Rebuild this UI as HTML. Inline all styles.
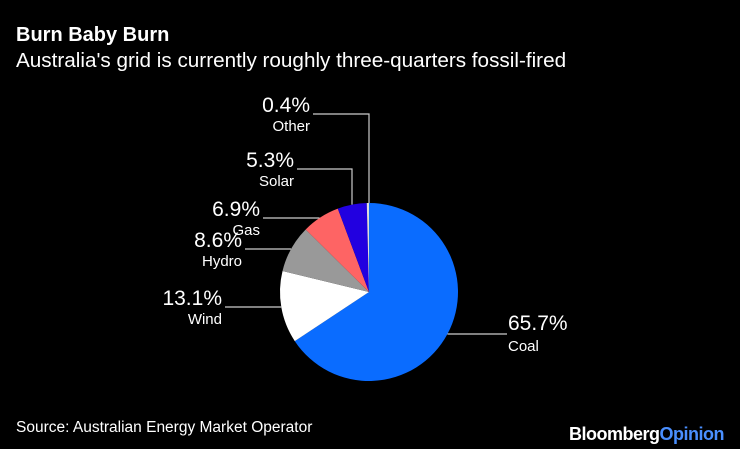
<!DOCTYPE html>
<html><head><meta charset="utf-8"><style>
body{margin:0;background:#000;width:740px;height:449px;overflow:hidden;font-family:"Liberation Sans",Arial,sans-serif;color:#fff}
</style></head><body>
<svg width="740" height="449" id="svg" style="position:absolute;left:0;top:0">
<text x="16" y="41" font-size="20" font-weight="bold" fill="#fff">Burn Baby Burn</text>
<text x="16" y="67" font-size="20.7" fill="#fff">Australia's grid is currently roughly three-quarters fossil-fired</text>
<text x="16" y="432" font-size="15.5" fill="#fff">Source: Australian Energy Market Operator</text>
<text x="724" y="440" font-size="18" font-weight="bold" fill="#fff" text-anchor="end" letter-spacing="-0.5">Bloomberg<tspan fill="#4a8fff">Opinion</tspan></text>
<g id="pie"></g>
</svg>
<script>
const categories=["Coal","Wind","Hydro","Gas","Solar","Other"];
const values=[65.7,13.1,8.6,6.9,5.3,0.4];
const labels=["65.7%","13.1%","8.6%","6.9%","5.3%","0.4%"];
const colors=["#0a6cff","#ffffff","#999999","#fe6464","#2200e0","#dddddd"];
const cx=369,cy=292,r=89;
const ns="http://www.w3.org/2000/svg";
const g=document.getElementById('pie');
const total=values.reduce((a,b)=>a+b,0);
function pt(a,rr){return [cx+rr*Math.sin(a),cy-rr*Math.cos(a)];}
let a0=0;
const mids=[];
values.forEach((v,i)=>{
  const a1=a0+v/total*2*Math.PI;
  const [x0,y0]=pt(a0,r),[x1,y1]=pt(a1,r);
  const p=document.createElementNS(ns,'path');
  p.setAttribute('d',`M${cx},${cy}L${x0},${y0}A${r},${r} 0 ${a1-a0>Math.PI?1:0} 1 ${x1},${y1}Z`);
  p.setAttribute('fill',colors[i]);
  
  
  g.appendChild(p);
  mids.push([a0,a1]);a0=a1;
});
const layout=[[334,'r',508],[307,'l',222],[249,'l',242],[218,'l',260],[169,'l',294],[114,'l',310]];
layout.forEach((L,i)=>{
  const [ly,side,tx]=L;
  let d;
  const m=(mids[i][0]+mids[i][1])/2;
  if(i>=4){
    const vx=i==5?cx:Math.round(cx+(r*Math.sin(m)));
    const vy=cy-Math.sqrt(r*r-(vx-cx)*(vx-cx));
    d=`M${tx+3},${ly}H${vx}V${vy}`;
  }else{
    const dx=Math.sqrt(Math.max(0,r*r-(ly-cy)*(ly-cy)));
    const ex=side=='r'?cx+dx:cx-dx;
    d=side=='r'?`M${ex},${ly}H${tx-1}`:`M${tx+3},${ly}H${ex}`;
  }
  const l=document.createElementNS(ns,'path');
  l.setAttribute('d',d);l.setAttribute('stroke','#ccc');l.setAttribute('fill','none');l.setAttribute('stroke-width','1.2');
  
  
  g.appendChild(l);
  const anchor=side=='r'?'start':'end';
  const t1=document.createElementNS(ns,'text');
  t1.setAttribute('x',tx);t1.setAttribute('y',side=='r'?ly-4:ly-2);t1.setAttribute('font-size','21');t1.setAttribute('fill','#fff');t1.setAttribute('text-anchor',anchor);
  t1.textContent=labels[i];
  
  
  g.appendChild(t1);
  const t2=document.createElementNS(ns,'text');
  t2.setAttribute('x',tx);t2.setAttribute('y',ly+17);t2.setAttribute('font-size','15');t2.setAttribute('fill','#fff');t2.setAttribute('text-anchor',anchor);
  t2.textContent=categories[i];
  
  
  g.appendChild(t2);
});
</script>
</body></html>
